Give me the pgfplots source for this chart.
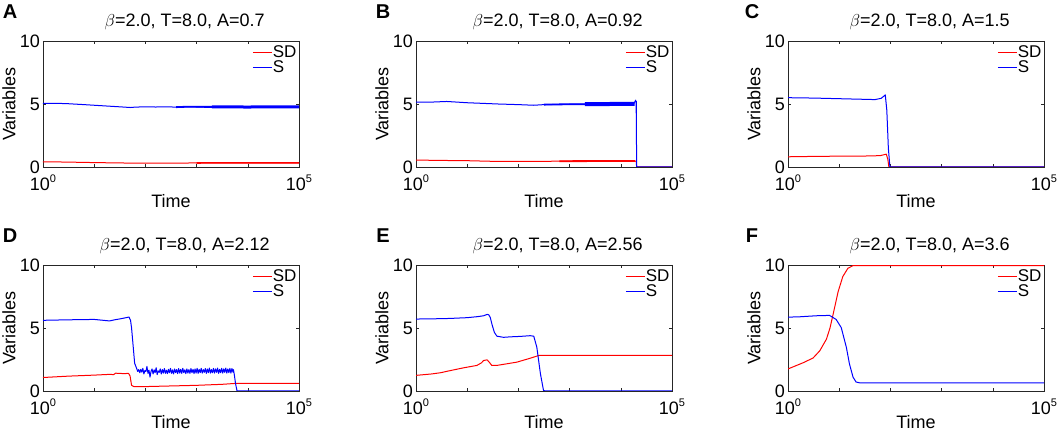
\documentclass[border=0pt]{standalone}
\usepackage{fontspec}
\setmainfont{Liberation Sans}
\usepackage{pgfplots}
\pgfplotsset{compat=1.18}
\definecolor{axgray}{rgb}{0.15,0.15,0.15}
\newcommand{\sups}[1]{10\raisebox{8pt}{\fontsize{11}{11}\selectfont #1}}
\pgfplotsset{
 panel/.style={
  scale only axis, width=256pt, height=126pt, anchor=south west,
  xmin=0, xmax=5, ymin=0, ymax=10,
  xtick={0,1,2,3,4,5},
  xticklabels={\sups{0},,,,,\sups{5}},
  ytick={0,5,10},
  /pgf/number format/assume math mode=true,
  tick label style={font=\fontsize{18}{18}\selectfont},
  xticklabel style={yshift=-6.5pt, inner sep=1pt},
  yticklabel style={inner sep=1pt, xshift=-2pt},
  axis line style={axgray, line width=0.6pt},
  tick style={axgray, line width=0.6pt},
  major tick length=3pt,
  xlabel={Time}, ylabel={Variables},
  xlabel style={at={(axis description cs:0.5,-0.27)}, anchor=center, font=\fontsize{18}{18}\selectfont},
  ylabel style={at={(axis description cs:-0.133,0.5)}, anchor=center, font=\fontsize{18}{18}\selectfont},
  title style={at={(axis description cs:0.553,1)}, anchor=base, yshift=8pt, font=\fontsize{18}{18}\selectfont},
  legend style={at={(axis description cs:1,1)}, anchor=north east, xshift=-2pt, yshift=-4pt,
    draw=none, fill=none, inner sep=0pt, outer sep=0pt, font=\fontsize{17}{17}\selectfont,
    nodes={inner sep=0.5pt, text height=12pt, text depth=2pt}, row sep=0pt},
  legend cell align=left,
  legend image code/.code={\draw[#1, line width=1pt] (0pt,0pt) -- (19pt,0pt);},
  every axis plot/.append style={line width=1pt, line join=round},
 },
 lower/.style={xlabel style={at={(axis description cs:0.5,-0.25)}}},
}
\begin{document}
\begin{tikzpicture}
\useasboundingbox (0,0) rectangle (1059pt,435pt);
% ---------------- A
\begin{axis}[panel, at={(43pt,268pt)}, title={$\beta$=2.0, T=8.0, A=0.7}]
\addplot[red] coordinates {(0,0.40)(0.3,0.40)(0.6,0.38)(1.0,0.35)(1.5,0.32)(2.0,0.30)(2.5,0.31)(3.0,0.32)(4.0,0.33)(5.0,0.33)};
\addplot[blue] coordinates {(0,5.05)(0.3,5.05)(0.5,5.02)(0.8,4.95)(1.0,4.9)(1.2,4.85)(1.4,4.8)(1.6,4.75)(1.7,4.72)(1.8,4.75)(2.0,4.78)(2.2,4.76)(2.4,4.78)(2.6,4.75)(2.8,4.78)(3.0,4.76)(5.0,4.78)};
\addplot[red, line width=1.6pt, forget plot] coordinates {(3.0,0.32)(4.0,0.33)(5.0,0.33)};
\addplot[blue, line width=1.8pt, forget plot] coordinates {(2.6,4.75)(2.8,4.78)(3.3,4.77)};
\addplot[blue, line width=3pt, forget plot] coordinates {(3.3,4.77)(4.0,4.76)(5.0,4.78)};
\legend{SD,S}
\end{axis}
% ---------------- B
\begin{axis}[panel, at={(416pt,268pt)}, title={$\beta$=2.0, T=8.0, A=0.92}]
\addplot[red] coordinates {(0,0.55)(0.5,0.52)(1.0,0.5)(1.5,0.45)(2.0,0.45)(2.5,0.45)(3.0,0.47)(4.3,0.47)(4.31,0)(5,0)};
\addplot[blue] coordinates {(0,5.15)(0.3,5.15)(0.6,5.2)(1.0,5.1)(1.3,5.05)(1.6,5.0)(2.0,4.95)(2.3,4.9)(2.5,4.95)(3.0,4.98)(4.25,5.0)(4.29,5.3)(4.30,5.1)(4.31,0)(5,0)};
\addplot[red, line width=1.8pt, forget plot] coordinates {(2.8,0.46)(3.5,0.47)(4.28,0.47)};
\addplot[blue, line width=1.8pt, forget plot] coordinates {(2.5,4.95)(3.0,4.98)(3.3,4.98)};
\addplot[blue, line width=4pt, forget plot] coordinates {(3.3,4.98)(3.8,5.0)(4.27,5.0)};
\addplot[blue, line width=1.8pt, forget plot] coordinates {(4.305,5.2)(4.305,0)};
\legend{SD,S}
\end{axis}
% ---------------- C
\begin{axis}[panel, at={(788pt,268pt)}, title={$\beta$=2.0, T=8.0, A=1.5}]
\addplot[red] coordinates {(0,0.81)(0.5,0.84)(1.0,0.86)(1.5,0.87)(1.8,0.9)(1.88,0.98)(1.92,1.02)(1.95,0.6)(1.97,0)(5,0)};
\addplot[blue] coordinates {(0,5.5)(0.5,5.47)(1.0,5.42)(1.4,5.38)(1.7,5.35)(1.82,5.45)(1.88,5.65)(1.9,5.72)(1.93,4.5)(1.96,1.5)(1.99,0)(5,0)};
\legend{SD,S}
\end{axis}
% ---------------- D
\begin{axis}[panel, lower, at={(43pt,44pt)}, title={$\beta$=2.0, T=8.0, A=2.12}]
\addplot[red] coordinates {(0,1.07)(0.5,1.18)(1.0,1.26)(1.3,1.32)(1.38,1.3)(1.42,1.42)(1.45,1.4)(1.6,1.38)(1.67,1.40)(1.70,1.2)(1.73,0.45)(1.78,0.34)(2.0,0.35)(2.5,0.4)(3.0,0.45)(3.5,0.53)(3.75,0.6)(5,0.6)};
\addplot[blue] coordinates {(0,5.61)(0.5,5.65)(1.0,5.68)(1.2,5.6)(1.3,5.56)(1.4,5.65)(1.5,5.72)(1.6,5.8)(1.68,5.87)(1.71,5.6)(1.73,5.0)(1.79,2.2)(1.83,1.78)
(1.85,1.55)(1.87,1.70)(1.89,1.45)(1.91,1.72)(1.93,1.50)(1.95,1.80)(1.97,1.35)(1.99,1.62)(2.01,1.55)(2.03,1.95)(2.05,1.40)(2.07,1.65)(2.09,1.10)(2.11,1.55)(2.13,1.75)(2.15,1.35)(2.17,1.68)(2.19,1.45)(2.21,1.85)(2.23,1.30)(2.25,1.60)(2.27,1.48)(2.29,1.75)(2.31,1.35)(2.33,1.70)(2.35,1.42)(2.37,1.78)(2.39,1.40)(2.41,1.65)(2.43,1.38)(2.45,1.72)(2.47,1.45)(2.49,1.80)(2.51,1.40)(2.53,1.68)(2.55,1.35)(2.57,1.75)(2.59,1.45)(2.61,1.70)(2.63,1.38)(2.65,1.78)(2.67,1.42)(2.69,1.72)(2.71,1.40)(2.73,1.80)(2.75,1.45)(2.77,1.68)(2.79,1.38)(2.81,1.75)(2.83,1.42)(2.85,1.70)(2.87,1.40)(2.89,1.78)(2.91,1.45)(2.93,1.72)(2.95,1.38)(2.97,1.75)(2.99,1.42)(3.01,1.80)(3.03,1.40)(3.05,1.72)(3.07,1.45)(3.09,1.80)(3.11,1.42)(3.13,1.70)(3.15,1.48)(3.17,1.78)(3.19,1.40)(3.21,1.75)(3.23,1.45)(3.25,1.82)(3.27,1.42)(3.29,1.70)(3.31,1.45)(3.33,1.80)(3.35,1.42)(3.37,1.75)(3.39,1.48)(3.41,1.82)(3.43,1.40)(3.45,1.72)(3.47,1.45)(3.49,1.80)(3.51,1.42)(3.53,1.75)(3.55,1.48)(3.57,1.82)(3.59,1.42)(3.61,1.75)(3.63,1.45)(3.65,1.80)(3.67,1.42)(3.69,1.78)(3.71,1.50)(3.72,1.70)
(3.74,1.2)(3.76,0.6)(3.79,0)(5,0)};
\legend{SD,S}
\end{axis}
% ---------------- E
\begin{axis}[panel, lower, at={(416pt,44pt)}, title={$\beta$=2.0, T=8.0, A=2.56}]
\addplot[red] coordinates {(0,1.24)(0.3,1.35)(0.48,1.45)(0.67,1.62)(0.93,1.84)(1.19,2.03)(1.28,2.24)(1.32,2.42)(1.39,2.47)(1.44,2.24)(1.48,2.03)(1.58,2.03)(1.97,2.29)(2.23,2.6)(2.40,2.82)(5,2.82)};
\addplot[blue] coordinates {(0,5.71)(0.5,5.74)(0.67,5.76)(1.0,5.82)(1.2,5.9)(1.32,5.97)(1.39,6.08)(1.42,6.05)(1.45,5.84)(1.49,5.2)(1.53,4.66)(1.58,4.35)(1.71,4.26)(1.85,4.3)(1.97,4.32)(2.1,4.35)(2.23,4.39)(2.30,4.35)(2.36,3.47)(2.43,1.37)(2.49,0.05)(2.52,0)(5,0)};
\legend{SD,S}
\end{axis}
% ---------------- F
\begin{axis}[panel, lower, at={(788pt,44pt)}, title={$\beta$=2.0, T=8.0, A=3.6}]
\addplot[red] coordinates {(0,1.75)(0.3,2.25)(0.49,2.62)(0.62,3.19)(0.75,4.11)(0.82,5.0)(0.88,6.07)(0.98,7.9)(1.07,9.08)(1.17,9.74)(1.27,9.95)(5,9.95)};
\addplot[blue] coordinates {(0,5.86)(0.23,5.89)(0.55,5.97)(0.81,6.0)(0.94,5.68)(1.04,5.03)(1.14,3.46)(1.2,2.15)(1.27,1.1)(1.33,0.71)(1.4,0.65)(5,0.65)};
\legend{SD,S}
\end{axis}
% panel letters
\node[font=\bfseries\fontsize{20}{20}\selectfont] at (10pt,423pt) {A};
\node[font=\bfseries\fontsize{20}{20}\selectfont] at (383pt,423pt) {B};
\node[font=\bfseries\fontsize{20}{20}\selectfont] at (752pt,423pt) {C};
\node[font=\bfseries\fontsize{20}{20}\selectfont] at (10pt,199pt) {D};
\node[font=\bfseries\fontsize{20}{20}\selectfont] at (383pt,199pt) {E};
\node[font=\bfseries\fontsize{20}{20}\selectfont] at (752pt,199pt) {F};
\end{tikzpicture}
\end{document}
